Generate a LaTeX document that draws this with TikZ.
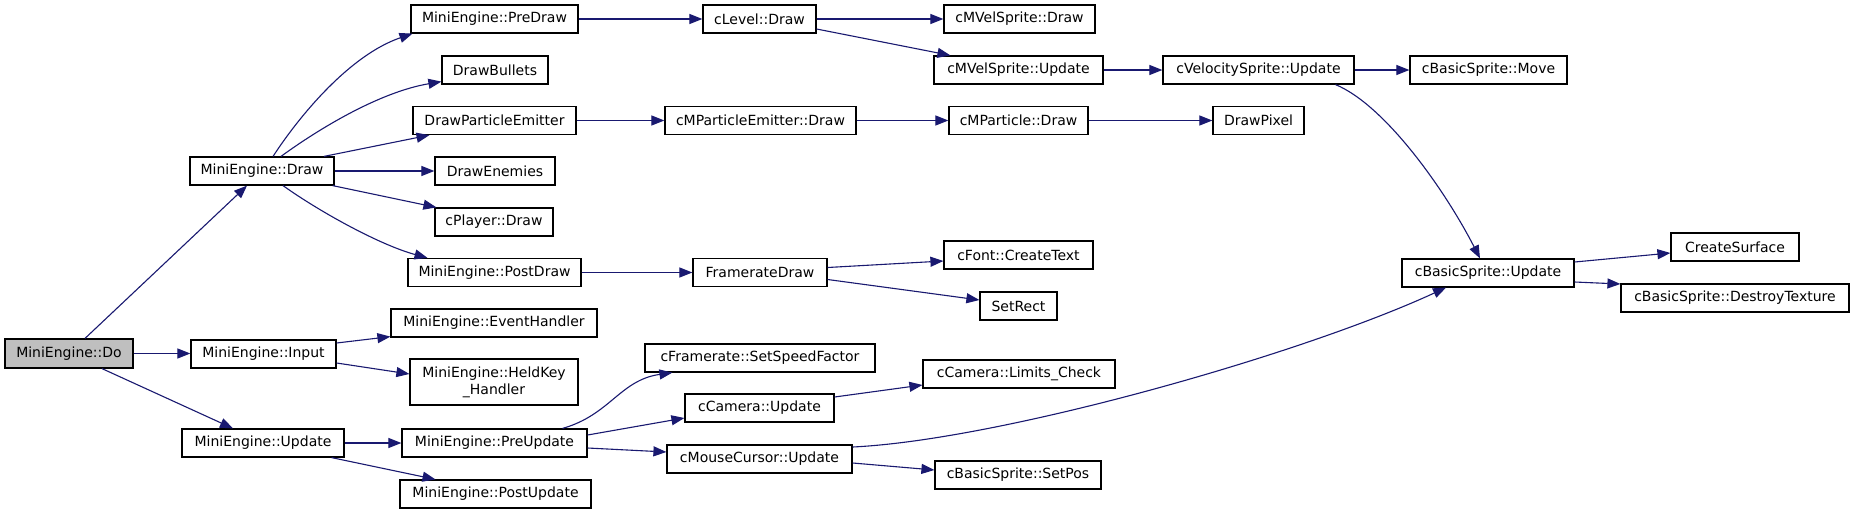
\documentclass[tikz,border=0pt]{standalone}
\usepackage{fontspec}
\setmainfont{DejaVu Sans}
\usetikzlibrary{arrows.meta}
\definecolor{edgec}{HTML}{191970}
\definecolor{rootfill}{HTML}{BFBFBF}
\begin{document}
\begin{tikzpicture}[x=1pt,y=-1pt,
  fn/.style={draw=black, line width=1.2pt, fill=white, inner sep=0pt,
    minimum height=28pt, font=\fontsize{14}{17}\selectfont},
  call/.style={draw=edgec, line width=1.1pt, -{Triangle[length=13pt,width=10pt]}}]
\useasboundingbox[fill=white] (0,0) rectangle (1853,512);
% column 0
\node[fn, minimum width=128pt, minimum height=29pt, fill=rootfill] (do) at (69,353.5) {MiniEngine::Do};
% column 1
\node[fn, minimum width=144pt] (draw) at (262,171) {MiniEngine::Draw};
\node[fn, minimum width=145pt] (input) at (263.5,354) {MiniEngine::Input};
\node[fn, minimum width=162pt] (update) at (263,443) {MiniEngine::Update};
% column 2
\node[fn, minimum width=167pt] (predraw) at (494.5,19) {MiniEngine::PreDraw};
\node[fn, minimum width=106pt] (bullets) at (495,70) {DrawBullets};
\node[fn, minimum width=163pt] (dpe) at (494.5,120.5) {DrawParticleEmitter};
\node[fn, minimum width=120pt] (enemies) at (495,171) {DrawEnemies};
\node[fn, minimum width=118pt] (player) at (494,222) {cPlayer::Draw};
\node[fn, minimum width=173pt] (postdraw) at (494.5,272.5) {MiniEngine::PostDraw};
\node[fn, minimum width=206pt] (evh) at (494,323) {MiniEngine::EventHandler};
\node[fn, minimum width=168pt, minimum height=46pt, align=center] (heldkey) at (494,382) {MiniEngine::HeldKey\\\_Handler};
\node[fn, minimum width=185pt] (preupd) at (494.5,443) {MiniEngine::PreUpdate};
\node[fn, minimum width=191pt] (postupd) at (495.5,494) {MiniEngine::PostUpdate};
% column 3
\node[fn, minimum width=113pt] (level) at (759.5,19) {cLevel::Draw};
\node[fn, minimum width=191pt] (cmpe) at (760.5,120.5) {cMParticleEmitter::Draw};
\node[fn, minimum width=134pt] (fdraw) at (760,272.5) {FramerateDraw};
\node[fn, minimum width=230pt] (ssf) at (760,358) {cFramerate::SetSpeedFactor};
\node[fn, minimum width=149pt] (camupd) at (759.5,408) {cCamera::Update};
\node[fn, minimum width=185pt] (mouse) at (759.5,459) {cMouseCursor::Update};
% column 4
\node[fn, minimum width=151pt] (mvdraw) at (1019.5,19) {cMVelSprite::Draw};
\node[fn, minimum width=169pt] (mvupd) at (1018.5,70) {cMVelSprite::Update};
\node[fn, minimum width=139pt] (mpdraw) at (1018.5,120.5) {cMParticle::Draw};
\node[fn, minimum width=149pt] (font) at (1018.5,255) {cFont::CreateText};
\node[fn, minimum width=77pt] (setrect) at (1018.5,306) {SetRect};
\node[fn, minimum width=192pt] (limits) at (1019,374) {cCamera::Limits\_Check};
\node[fn, minimum width=166pt] (setpos) at (1018,475) {cBasicSprite::SetPos};
% column 5
\node[fn, minimum width=191pt] (velupd) at (1258.5,70) {cVelocitySprite::Update};
\node[fn, minimum width=91pt] (drawpixel) at (1258.5,120.5) {DrawPixel};
% column 6
\node[fn, minimum width=157pt] (move) at (1488.5,70) {cBasicSprite::Move};
\node[fn, minimum width=172pt] (bsupd) at (1488,273) {cBasicSprite::Update};
% column 7
\node[fn, minimum width=128pt] (createsurf) at (1735,247) {CreateSurface};
\node[fn, minimum width=228pt] (destroy) at (1735,298) {cBasicSprite::DestroyTexture};

% edges
\draw[call] ([xshift=16]do.north) -- ([xshift=-15]draw.south);
\draw[call] (do.east) -- (do.east -| input.west);
\draw[call] ([xshift=33]do.south) -- ([xshift=-30]update.north);

\draw[call] ([xshift=11]draw.north) .. controls (300,115) and (350,55) .. ([xshift=-82]predraw.south);
\draw[call] ([xshift=19]draw.north) .. controls (320,128) and (380,92) .. ([yshift=3]bullets.south west);
\draw[call] ([xshift=62]draw.north) -- ([xshift=-65]dpe.south);
\draw[call] (draw.east) -- (enemies.west);
\draw[call] ([xshift=-2]draw.south east) -- ([xshift=2]player.north west);
\draw[call] ([xshift=21]draw.south) .. controls (320,212) and (380,245) .. ([xshift=-67]postdraw.north);

\draw[call] ([yshift=11]input.east) -- ([yshift=1]evh.south west);
\draw[call] ([yshift=-9]input.east) -- ([yshift=8]heldkey.west);

\draw[call] (update.east) -- (preupd.west);
\draw[call] ([xshift=-13]update.south east) -- ([xshift=-60]postupd.north);

\draw[call] (predraw.east) -- (level.west);
\draw[call] (dpe.east) -- (cmpe.west);
\draw[call] (postdraw.east) -- (fdraw.west);

\draw[call] ([xshift=68]preupd.north) .. controls (610,415) and (620,380) .. ([xshift=28]ssf.south west);
\draw[call] ([yshift=8]preupd.east) -- ([yshift=-10]camupd.west);
\draw[call] ([yshift=-5]preupd.east) -- ([yshift=7]mouse.west);

\draw[call] (level.east) -- (mvdraw.west);
\draw[call] ([yshift=-10]level.east) -- ([xshift=17]mvupd.north west);
\draw[call] (cmpe.east) -- (mpdraw.west);

\draw[call] ([yshift=5]fdraw.east) -- ([yshift=-6]font.west);
\draw[call] ([yshift=-7]fdraw.east) -- ([yshift=6]setrect.west);
\draw[call] ([yshift=11]camupd.east) -- ([yshift=-11]limits.west);
\draw[call] ([yshift=12]mouse.east) .. controls (1000,440) and (1300,355) .. ([xshift=-42]bsupd.south);
\draw[call] ([yshift=-4]mouse.east) -- ([yshift=5]setpos.west);

\draw[call] (mvupd.east) -- (velupd.west);
\draw[call] (mpdraw.east) -- (drawpixel.west);
\draw[call] (velupd.east) -- (move.west);
\draw[call] ([xshift=77]velupd.south) .. controls (1385,105) and (1445,190) .. ([xshift=-8]bsupd.north);

\draw[call] ([yshift=11]bsupd.east) -- ([yshift=-6]createsurf.west);
\draw[call] ([yshift=-9]bsupd.east) -- ([yshift=14]destroy.west);
\end{tikzpicture}
\end{document}
